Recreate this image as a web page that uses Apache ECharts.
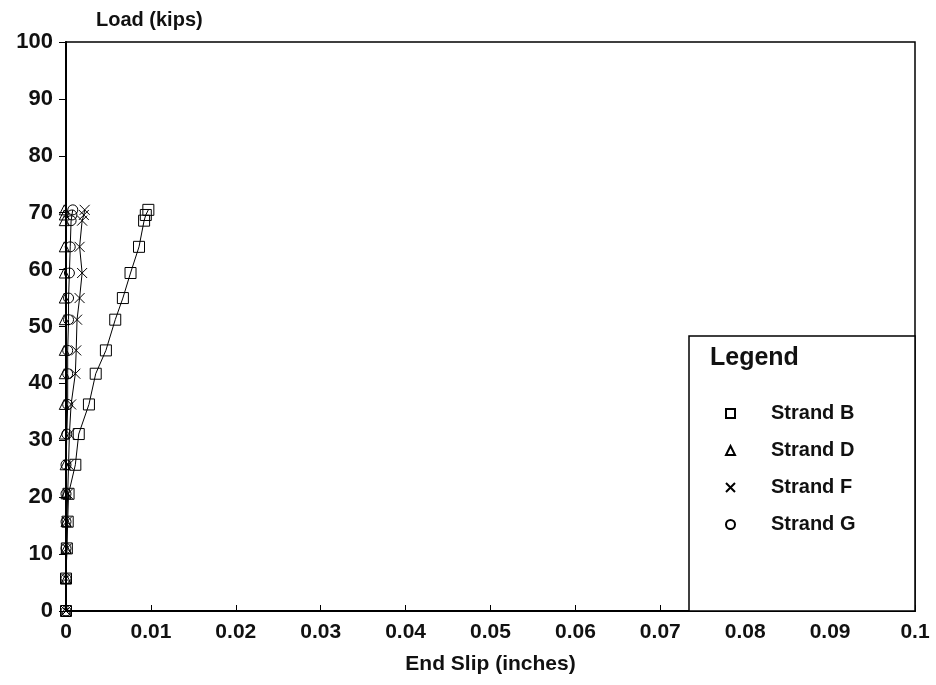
<!DOCTYPE html>
<html>
<head>
<meta charset="utf-8">
<script src="https://cdn.jsdelivr.net/npm/echarts@6/dist/echarts.min.js"></script>
<style>html,body{margin:0;padding:0;background:#fff}#c{width:936px;height:685px}</style>
</head>
<body>
<div id="c"></div>
<script>
var loads   = [0, 5.7, 11, 15.7, 20.6, 25.7, 31.1, 36.3, 41.7, 45.8, 51.2, 55.0, 59.4, 64.0, 68.6, 69.6, 70.5];
var slipB   = [0, 0, 0.0001, 0.0002, 0.0003, 0.0011, 0.0015, 0.0027, 0.0035, 0.0047, 0.0058, 0.0067, 0.0076, 0.0086, 0.0092, 0.0094, 0.0097];
var slipD   = [0, 0, 0, 0, 0, -0.0001, -0.0002, -0.0002, -0.0002, -0.0002, -0.0002, -0.0002, -0.0002, -0.0002, -0.0002, -0.0002, -0.0002];
var slipF   = [0, 0, 0.0001, 0.0001, 0.0002, 0.0003, 0.0004, 0.0006, 0.0011, 0.0012, 0.0013, 0.0016, 0.0019, 0.0016, 0.0019, 0.0021, 0.0022];
var slipG   = [0, 0, 0, 0, 0, 0, 0.0001, 0.0002, 0.0002, 0.0002, 0.0003, 0.0003, 0.0004, 0.0005, 0.0006, 0.0007, 0.0008];
var seriesNames = ['Strand B', 'Strand D', 'Strand F', 'Strand G'];
var xTicks = ['0', '0.01', '0.02', '0.03', '0.04', '0.05', '0.06', '0.07', '0.08', '0.09', '0.1'];

var FONT = '"Liberation Sans", Arial, sans-serif';
var crossPath = 'path://M0,0L10,10M10,0L0,10';
function pairs(xs) { return xs.map(function (x, i) { return [x, loads[i]]; }); }
function mk(name, data, symbol, size) {
  return {
    name: name, type: 'line', data: pairs(data), symbol: symbol, symbolSize: size,
    showSymbol: true, clip: false, animation: false,
    lineStyle: { color: '#000', width: 1 },
    itemStyle: { color: 'rgba(255,255,255,0)', borderColor: '#000', borderWidth: 1 }
  };
}
var chart = echarts.init(document.getElementById('c'));
chart.setOption({
  animation: false,
  backgroundColor: '#fff',
  grid: { left: 66, right: 21, top: 42, bottom: 74, show: true, borderColor: '#000', borderWidth: 1.5, backgroundColor: 'transparent' },
  xAxis: {
    type: 'value', min: 0, max: 0.1, interval: 0.01,
    name: 'End Slip (inches)', nameLocation: 'middle', nameGap: 43,
    nameTextStyle: { fontFamily: FONT, fontSize: 21, fontWeight: 'bold', color: '#111' },
    axisLine: { lineStyle: { color: '#000', width: 2 } },
    axisTick: { inside: true, length: 6, lineStyle: { color: '#000' } },
    splitLine: { show: false },
    axisLabel: { fontFamily: FONT, fontSize: 21, fontWeight: 'bold', color: '#111', margin: 11,
      formatter: function (v) { return xTicks[Math.round(v * 100)]; } }
  },
  yAxis: {
    type: 'value', min: 0, max: 100, interval: 10,
    axisLine: { lineStyle: { color: '#000', width: 2 } },
    axisTick: { inside: false, length: 7, lineStyle: { color: '#000' } },
    splitLine: { show: false },
    axisLabel: { fontFamily: FONT, fontSize: 22, fontWeight: 'bold', color: '#111', margin: 13 }
  },
  legend: {
    orient: 'vertical', left: 720, top: 397, itemGap: 14,
    itemWidth: 9, itemHeight: 9, selectedMode: false,
    data: [
      { name: seriesNames[0], icon: 'rect' },
      { name: seriesNames[1], icon: 'triangle' },
      { name: seriesNames[2], icon: crossPath },
      { name: seriesNames[3], icon: 'circle' }
    ],
    textStyle: { fontFamily: FONT, fontSize: 20, fontWeight: 'bold', color: '#111', lineHeight: 23, padding: [0, 0, 0, 31] },
    z: 10
  },
  graphic: [
    { type: 'rect', shape: { x: 689, y: 336, width: 226, height: 275 }, style: { fill: '#fff', stroke: '#000', lineWidth: 1.5 }, z: 5 },
    { type: 'text', left: 710, top: 346, style: { text: 'Legend', font: 'bold 25px ' + FONT, fill: '#111' }, z: 6 },
    { type: 'text', left: 96, top: 10, style: { text: 'Load (kips)', font: 'bold 20px ' + FONT, fill: '#111' }, z: 6 }
  ],
  series: [
    mk(seriesNames[0], slipB, 'rect', 11),
    mk(seriesNames[1], slipD, 'triangle', 10),
    mk(seriesNames[2], slipF, crossPath, 10),
    mk(seriesNames[3], slipG, 'circle', 10)
  ]
});
</script>
</body>
</html>
